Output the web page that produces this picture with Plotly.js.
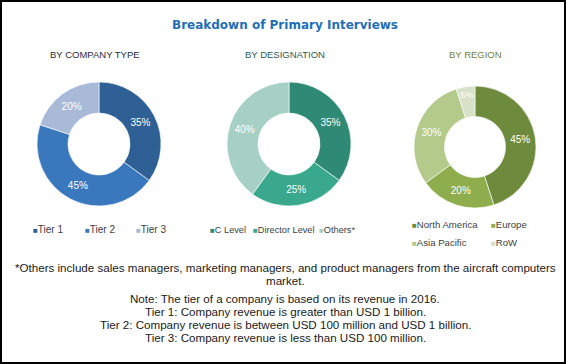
<!DOCTYPE html>
<html>
<head>
<meta charset="utf-8">
<script src="https://cdn.plot.ly/plotly-3.0.1.min.js"></script>
<style>html,body{margin:0;padding:0;background:#fff;}#chart{width:566px;height:364px;}</style>
</head>
<body>
<div id="chart"></div>
<script>
// ---- data ----
const companyLabels = ["Tier 1", "Tier 2", "Tier 3"];
const companyValues = [35, 45, 20];
const companyColors = ["#2E5F95", "#3A78BD", "#A8BAD7"];

const designationLabels = ["C Level", "Director Level", "Others*"];
const designationValues = [35, 25, 40];
const designationColors = ["#2E8A74", "#3AA88D", "#A7D0C4"];

const regionLabels = ["North America", "Europe", "Asia Pacific", "RoW"];
const regionValues = [45, 20, 30, 5];
const regionColors = ["#6E8B3D", "#8EAE4D", "#B4CA8B", "#D7E1C8"];

const chartTitle = "Breakdown of Primary Interviews";
const subTitles = ["BY COMPANY TYPE", "BY DESIGNATION", "BY REGION"];
const subTitleColors = ["#1F2B45", "#2D5A57", "#76803A"];
const footnotes = [
  "*Others include sales managers, marketing managers, and product managers from the aircraft computers",
  "market.",
  "Note: The tier of a company is based on its revenue in 2016.",
  "Tier 1: Company revenue is greater than USD 1 billion.",
  "Tier 2: Company revenue is between USD 100 million and USD 1 billion.",
  "Tier 3: Company revenue is less than USD 100 million."
];

// ---- layout helpers ----
const W = 566, H = 364;
const px = v => v / W;
const py = v => 1 - v / H;

function pie(labels, values, colors, cx, cy, r) {
  return {
    type: "pie", labels: labels, values: values, sort: false,
    direction: "clockwise", rotation: 0, hole: 0.5,
    marker: {colors: colors, line: {color: "#ffffff", width: 0.6}},
    textinfo: "percent", textposition: "inside", insidetextorientation: "horizontal",
    insidetextfont: {color: "#ffffff", size: 10, family: "Liberation Sans, Arial"},
    hoverinfo: "label+percent", showlegend: false,
    domain: {x: [px(cx - r), px(cx + r)], y: [py(cy + r), py(cy - r)]}
  };
}

const data = [
  pie(companyLabels, companyValues, companyColors, 99, 144, 62),
  pie(designationLabels, designationValues, designationColors, 289, 144, 62),
  pie(regionLabels, regionValues, regionColors, 475, 147, 61)
];

const annotations = [];
function addText(text, x, y, size, color, family, anchor) {
  annotations.push({text: text, x: px(x), y: py(y), xref: "paper", yref: "paper",
    xanchor: anchor || "center", yanchor: "middle", showarrow: false,
    font: {size: size, color: color, family: family}});
}
// title + subtitles
addText("<b>" + chartTitle + "</b>", 285, 25, 12, "#1F6FB6", "DejaVu Sans, Verdana");
const subX = [95, 285, 475];
subTitles.forEach((t, i) => addText(t, subX[i], 54, 9.5, subTitleColors[i], "Liberation Sans, Arial"));

// legends (built from label/colour arrays)
function legendItem(label, color, x, y, size) {
  addText('<span style="color:' + color + ';font-size:8px">■</span>' + label, x, y, size, "#404040", "Liberation Sans, Arial", "left");
}
const leg1X = [31, 83, 134];
companyLabels.forEach((l, i) => legendItem(l, companyColors[i], leg1X[i], 229, 10));
const leg2X = [208, 251, 317];
designationLabels.forEach((l, i) => legendItem(l, designationColors[i], leg2X[i], 230, 9.2));
const leg3Pos = [[410, 224], [489, 224], [410, 242], [489, 242]];
regionLabels.forEach((l, i) => legendItem(l, regionColors[i], leg3Pos[i][0], leg3Pos[i][1], 9.6));

// footnotes
const footY = [267, 280, 298, 311, 324, 337];
footnotes.forEach((t, i) => addText(t, 285, footY[i], 11.6, "#1a1a1a", "Liberation Sans, Arial"));

const layout = {
  width: W, height: H,
  margin: {l: 0, r: 0, t: 0, b: 0},
  paper_bgcolor: "#ffffff",
  showlegend: false,
  annotations: annotations,
  shapes: [{type: "rect", xref: "paper", yref: "paper", x0: 0, x1: 1, y0: 0, y1: 1,
    line: {color: "#000000", width: 4}}]
};

Plotly.newPlot("chart", data, layout, {displayModeBar: false, staticPlot: true});
</script>
</body>
</html>
